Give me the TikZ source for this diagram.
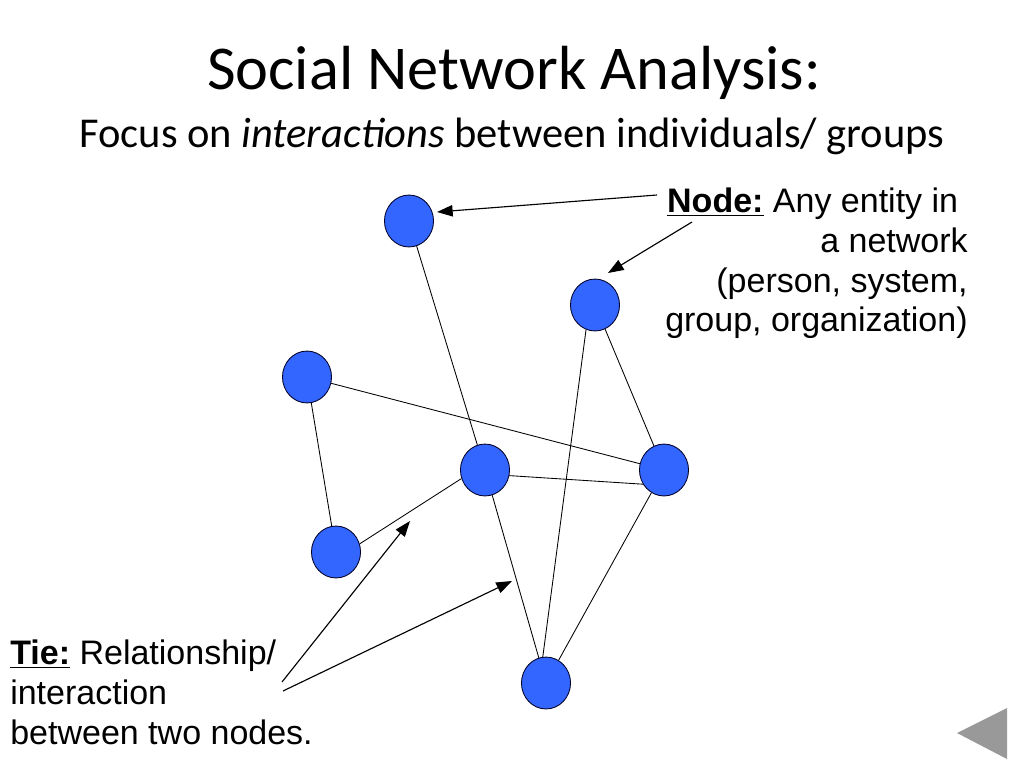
\documentclass[tikz,border=0pt]{standalone}
\usepackage{fontspec}
\setmainfont{Carlito}
\newfontfamily\arialfont{Liberation Sans}
\usetikzlibrary{arrows.meta,shapes.geometric}
\definecolor{nodeblue}{RGB}{51,102,255}
\begin{document}
\begin{tikzpicture}[x=0.703125bp,y=-0.703125bp,
    actor/.style={shape=ellipse,draw=black!85!blue,fill=nodeblue,minimum width=34.5bp,minimum height=36.5bp,inner sep=0pt,line width=0.6bp},
    tie/.style={line width=0.6bp},
    pointer/.style={-{Triangle[length=11bp,width=8bp]},line width=0.8bp},
    label/.style={font=\arialfont\fontsize{24}{28}\selectfont,inner sep=0pt}]
  \useasboundingbox (0,0) rectangle (1024,768);

  \node[anchor=base] (title) at (514,90) {\fontsize{44}{53}\selectfont Social Network Analysis:};
  \node[anchor=base] (sub) at (512,147) {\fontsize{30}{36}\selectfont Focus on \textit{interactions} between individuals/ groups};

  \node[actor] (a) at (409,221) {};
  \node[actor] (b) at (595,305) {};
  \node[actor] (c) at (307,377) {};
  \node[actor] (d) at (485,470) {};
  \node[actor] (e) at (664,470) {};
  \node[actor] (f) at (336,552) {};
  \node[actor] (g) at (546,683) {};

  \path [tie] (a) edge (d)
              (c) edge (e)
              (c) edge (f)
              (f.19) edge (d.200)
              (d.-13) edge (e.214)
              (d) edge (g)
              (b.-110) edge (g.97)
              (b) edge (e)
              (e) edge (g);

  \node[label,anchor=north east,align=right] (nodetext) at (968,188)
    {\underline{\textbf{Node:}} Any entity in\hspace*{.28em}\\ a network\\ (person, system,\hspace*{.28em}\\ group, organization)};
  \node[label,anchor=north west,align=left] (tietext) at (10,640)
    {\underline{\textbf{Tie:}} Relationship/\\ interaction\\ between two nodes.};

  \coordinate (nodefrom1) at (657,195);
  \coordinate (nodeto1) at (437,212);
  \coordinate (nodefrom2) at (692,222);
  \coordinate (nodeto2) at (608,273);
  \coordinate (tiefrom1) at (282,682);
  \coordinate (tieto1) at (410,521);
  \coordinate (tiefrom2) at (283,691);
  \coordinate (tieto2) at (512,581);
  \draw [pointer] (nodefrom1) -- (nodeto1);
  \draw [pointer] (nodefrom2) -- (nodeto2);
  \draw [pointer] (tiefrom1) -- (tieto1);
  \draw [pointer] (tiefrom2) -- (tieto2);

  \fill [black!40] (957,733) -- (1007,708) -- (1007,759) -- cycle;
\end{tikzpicture}
\end{document}
